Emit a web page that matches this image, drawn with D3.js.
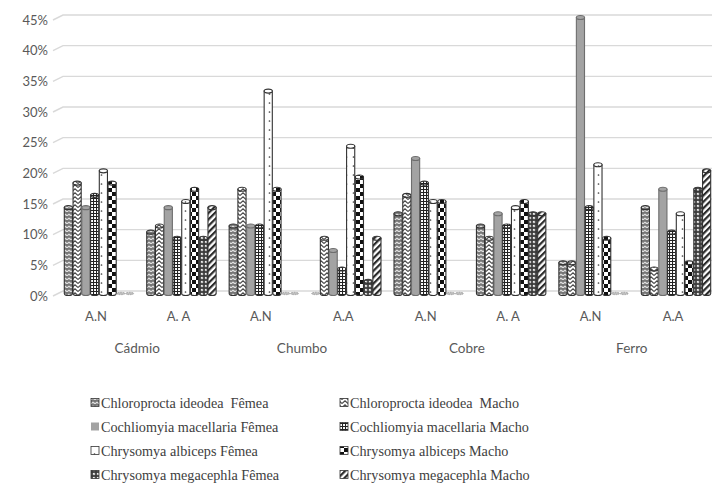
<!DOCTYPE html>
<html>
<head>
<meta charset="utf-8">
<script src="https://cdn.jsdelivr.net/npm/d3@7"></script>
<style>
  html, body { margin: 0; padding: 0; background: #fff; }
  svg { display: block; }
</style>
</head>
<body>
<div id="chart"></div>
<script>
// Metals, each with two sampling areas
const metals = ["Cádmio", "Chumbo", "Cobre", "Ferro"];
const areaLabels = ["A.N", "A. A", "A.N", "A.A", "A.N", "A. A", "A.N", "A.A"];
const yTicks = [0, 5, 10, 15, 20, 25, 30, 35, 40, 45];

const seriesNames = [
  "Chloroprocta ideodea  Fêmea",
  "Chloroprocta ideodea  Macho",
  "Cochliomyia macellaria Fêmea",
  "Cochliomyia macellaria Macho",
  "Chrysomya albiceps Fêmea",
  "Chrysomya albiceps Macho",
  "Chrysomya megacephla Fêmea",
  "Chrysomya megacephla Macho"
];

// Percentages per area (order follows areaLabels)
const chloroproctaFemea  = [14, 10, 11, 0, 13, 11, 5, 14];
const chloroproctaMacho  = [18, 11, 17, 9, 16, 9, 5, 4];
const cochliomyiaFemea   = [14, 14, 11, 7, 22, 13, 45, 17];
const cochliomyiaMacho   = [16, 9, 11, 4, 18, 11, 14, 10];
const albicepsFemea      = [20, 15, 33, 24, 15, 14, 21, 13];
const albicepsMacho      = [18, 17, 17, 19, 15, 15, 9, 5];
const megacephlaFemea    = [0, 9, 0, 2, 0, 13, 0, 17];
const megacephlaMacho    = [0, 14, 0, 9, 0, 13, 0, 20];

const seriesValues = [
  chloroproctaFemea, chloroproctaMacho, cochliomyiaFemea, cochliomyiaMacho,
  albicepsFemea, albicepsMacho, megacephlaFemea, megacephlaMacho
];

const W = 712, H = 485;
const svg = d3.select("#chart").append("svg").attr("width", W).attr("height", H);
const defs = svg.append("defs");

// ---- fill patterns for each series ----
function pat(id, w, h, bg, draw) {
  const p = defs.append("pattern").attr("id", id)
    .attr("patternUnits", "userSpaceOnUse").attr("width", w).attr("height", h);
  p.append("rect").attr("width", w).attr("height", h).attr("fill", bg);
  draw(p);
}
// 0: dark scalloped waves
pat("p0", 4, 4, "#9a9a9a", p => {
  p.append("path").attr("d", "M0,3 Q1,0.2 2,3 T4,3").attr("fill", "none")
    .attr("stroke", "#f2f2f2").attr("stroke-width", 0.9);
  p.append("path").attr("d", "M0,1 L4,1").attr("stroke", "#333").attr("stroke-width", 0.7);
});
// 1: light chevrons
pat("p1", 6, 4, "#ffffff", p => {
  p.append("path").attr("d", "M0,3.6 L3,0.8 L6,3.6").attr("fill", "none")
    .attr("stroke", "#4a4a4a").attr("stroke-width", 1.1);
});
// 2: solid grey
pat("p2", 4, 4, "#a3a3a3", p => {});
// 3: small grid
pat("p3", 3, 3, "#ffffff", p => {
  p.append("path").attr("d", "M0,0.5 H3 M0.5,0 V3").attr("stroke", "#222").attr("stroke-width", 1.1);
});
// 4: sparse dots
pat("p4", 7, 9, "#ffffff", p => {
  p.append("circle").attr("cx", 3.5).attr("cy", 4).attr("r", 0.85).attr("fill", "#444");
});
// 5: large checkerboard
pat("p5", 8, 8, "#ffffff", p => {
  p.append("rect").attr("x", 0).attr("y", 0).attr("width", 4).attr("height", 4).attr("fill", "#111");
  p.append("rect").attr("x", 4).attr("y", 4).attr("width", 4).attr("height", 4).attr("fill", "#111");
});
// 6: shaded spheres
pat("p6", 4, 4, "#3c3c3c", p => {
  p.append("circle").attr("cx", 2).attr("cy", 2).attr("r", 1.3).attr("fill", "#c8c8c8");
  p.append("circle").attr("cx", 1.6).attr("cy", 1.6).attr("r", 0.5).attr("fill", "#ffffff");
});
// 7: wide diagonal stripes
pat("p7", 4.5, 4.5, "#ffffff", p => {
  p.attr("patternTransform", "rotate(45)");
  p.append("rect").attr("x", 0).attr("y", 0).attr("width", 2.2).attr("height", 4.5).attr("fill", "#2a2a2a");
});

// ---- scales ----
const depthX = 10, depthY = 5;              // floor depth of the 3D plot
const yBack = d3.scaleLinear().domain([0, 45]).range([291, 15]);   // back wall
const yMid = v => yBack(v) + 2.5;           // bars sit half way into the floor
const xArea = d3.scalePoint().domain(d3.range(areaLabels.length)).range([96, 673]);
const xSeries = d3.scaleBand().domain(d3.range(seriesNames.length)).range([-35, 35]).paddingInner(0);

// ---- gridlines on the back wall with a short side stroke ----
const grid = svg.append("g");
yTicks.forEach(t => {
  const y = yBack(t);
  grid.append("path")
    .attr("d", `M${63 - depthX},${y + depthY} L63,${y} L${W},${y}`)
    .attr("fill", "none").attr("stroke", "#d9d9d9").attr("stroke-width", 1.4);
});

// ---- y axis labels ----
svg.append("g").selectAll("text").data(yTicks).join("text")
  .attr("x", 48).attr("y", d => yBack(d) + depthY)
  .attr("dy", "0.35em").attr("text-anchor", "end")
  .attr("font-family", "Lato, 'Open Sans', sans-serif").attr("font-size", 13)
  .attr("fill", "#595959")
  .text(d => d + "%");

// ---- cylindrical bars ----
const bw = xSeries.bandwidth();
const ry = 2;
const bars = svg.append("g");
areaLabels.forEach((lab, ai) => {
  const cx0 = xArea(ai) + 3;
  seriesValues.forEach((vals, si) => {
    const v = vals[ai];
    const x0 = cx0 + xSeries(si) + 0.3;
    const x1 = x0 + bw - 0.6;
    const rx = (x1 - x0) / 2;
    const base = yMid(0);
    const top = yMid(v);
    const fill = `url(#p${si})`;
    const stroke = si === 2 ? "#6e6e6e" : "#333";
    if (v === 0) {
      bars.append("ellipse").attr("cx", x0 + rx).attr("cy", base).attr("rx", rx).attr("ry", 1.2)
        .attr("fill", "#bdbdbd").attr("stroke", "#8a8a8a").attr("stroke-width", 0.6)
        .attr("stroke-dasharray", "1.5,1");
      return;
    }
    bars.append("path")
      .attr("d", `M${x0},${top} L${x0},${base} A${rx},${ry} 0 0 0 ${x1},${base} L${x1},${top} Z`)
      .attr("fill", fill).attr("stroke", stroke).attr("stroke-width", 1.1);
    bars.append("ellipse").attr("cx", x0 + rx).attr("cy", top).attr("rx", rx).attr("ry", ry)
      .attr("fill", fill).attr("stroke", stroke).attr("stroke-width", 1.1);
  });
});

// ---- x axis labels ----
svg.append("g").selectAll("text").data(areaLabels).join("text")
  .attr("x", (d, i) => xArea(i)).attr("y", 321)
  .attr("text-anchor", "middle")
  .attr("font-family", "Lato, 'Open Sans', sans-serif").attr("font-size", 13)
  .attr("fill", "#595959")
  .text(d => d);

svg.append("g").selectAll("text").data(metals).join("text")
  .attr("x", (d, i) => (xArea(2 * i) + xArea(2 * i + 1)) / 2).attr("y", 353)
  .attr("text-anchor", "middle")
  .attr("font-family", "Lato, 'Open Sans', sans-serif").attr("font-size", 13.5)
  .attr("fill", "#595959")
  .text(d => d);

// ---- legend ----
const legend = svg.append("g");
seriesNames.forEach((name, i) => {
  const col = i % 2, row = Math.floor(i / 2);
  const lx = col === 0 ? 91 : 340;
  const ly = 403 + row * 24;
  legend.append("rect").attr("x", lx).attr("y", ly - 4.5).attr("width", 8).attr("height", 8)
    .attr("fill", `url(#p${i})`).attr("stroke", i === 2 ? "none" : "#333").attr("stroke-width", 0.8);
  legend.append("text").attr("x", lx + 10).attr("y", ly).attr("dy", "0.35em")
    .attr("font-family", "'Liberation Serif', 'Times New Roman', serif").attr("font-size", 14.2)
    .attr("fill", "#404040").attr("xml:space", "preserve").style("white-space", "pre")
    .text(name);
});
</script>
</body>
</html>
